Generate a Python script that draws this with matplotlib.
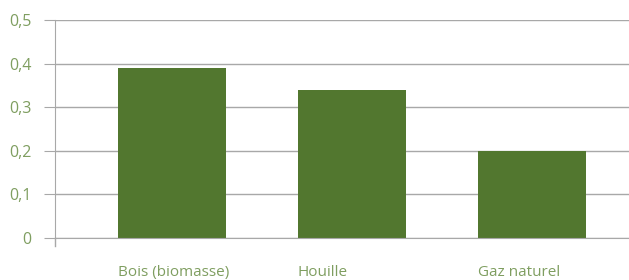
import matplotlib
matplotlib.use("Agg")
import matplotlib.pyplot as plt

categories = ["Bois (biomasse)", "Houille", "Gaz naturel"]
values = [0.39, 0.34, 0.20]
yticks = [0, 0.1, 0.2, 0.3, 0.4, 0.5]
ytick_labels = ["0", "0,1", "0,2", "0,3", "0,4", "0,5"]

BAR = "#52772f"
TEXT = "#7f9e60"
GRID = "#a8a8a8"

plt.rcParams["font.family"] = ["Open Sans", "DejaVu Sans"]

fig = plt.figure(figsize=(6.29, 2.8), dpi=100)
ax = fig.add_axes([55 / 629, 1 - 238 / 280, 1 - 55 / 629, (238 - 20) / 280])

x = list(range(len(categories)))
width = 0.6
ax.bar(x, values, width=width, color=BAR, zorder=3)

ax.set_ylim(0, 0.5)
ax.set_xlim(-0.65, 2.54)
ax.set_yticks(yticks)
ax.set_yticklabels(ytick_labels)
ax.yaxis.grid(True, color=GRID, linewidth=1, zorder=0)
ax.tick_params(axis="y", length=8, color=GRID, labelcolor=TEXT, labelsize=11.5, pad=9)

ax.set_xticks([])
for xi, name in zip(x, categories):
    ax.text(xi - width / 2, -0.079, name, ha="left", va="center", color=TEXT,
            fontsize=11, transform=ax.transData, clip_on=False)

for side in ["top", "right"]:
    ax.spines[side].set_visible(False)
ax.spines["left"].set_color(GRID)
ax.spines["bottom"].set_color(GRID)
ax.spines["bottom"].set_zorder(4)
# small tail of the y axis below zero
ax.plot([0, 0], [0, -0.018], color=GRID, linewidth=1, transform=ax.get_yaxis_transform(),
        clip_on=False)

fig.savefig("out.png", dpi=100)
